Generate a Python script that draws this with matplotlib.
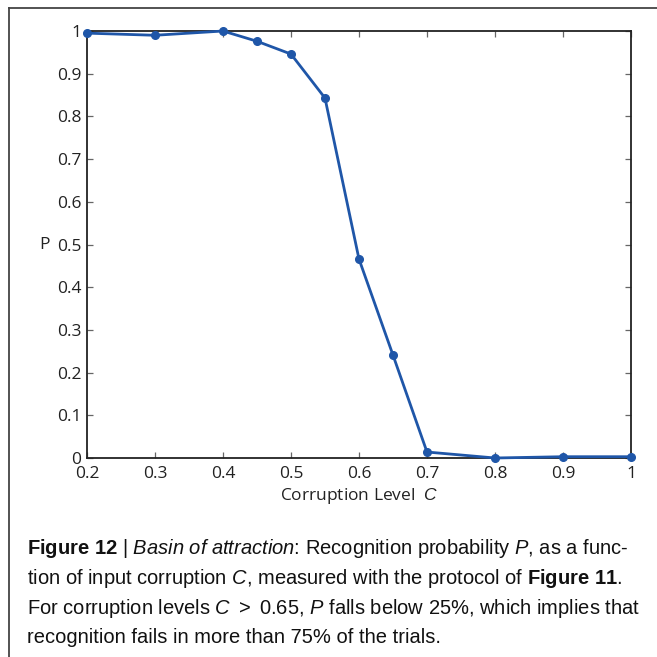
import matplotlib
matplotlib.use("Agg")
import matplotlib.pyplot as plt
from matplotlib.lines import Line2D

# corruption level C vs recognition probability P
corruption = [0.2, 0.3, 0.4, 0.45, 0.5, 0.55, 0.6, 0.65, 0.7, 0.8, 0.9, 1.0]
prob = [0.995, 0.99, 1.0, 0.976, 0.946, 0.843, 0.466, 0.241, 0.014, 0.0, 0.003, 0.003]
xticks = [0.2, 0.3, 0.4, 0.5, 0.6, 0.7, 0.8, 0.9, 1.0]
xticklabels = ["0.2", "0.3", "0.4", "0.5", "0.6", "0.7", "0.8", "0.9", "1"]
yticks = [0, 0.1, 0.2, 0.3, 0.4, 0.5, 0.6, 0.7, 0.8, 0.9, 1.0]
yticklabels = ["0", "0.1", "0.2", "0.3", "0.4", "0.5", "0.6", "0.7", "0.8", "0.9", "1"]

caption = [
    r"$\mathbf{Figure\ 12}$ | $\mathit{Basin\ of\ attraction}$: Recognition probability $\mathit{P}$, as a func-",
    r"tion of input corruption $\mathit{C}$, measured with the protocol of $\mathbf{Figure\ 11}$.",
    r"For corruption levels $\mathit{C}$ $>$ 0.65, $\mathit{P}$ falls below 25%, which implies that",
    r"recognition fails in more than 75% of the trials.",
]

plt.rcParams["mathtext.fontset"] = "custom"
plt.rcParams["mathtext.rm"] = "Liberation Sans"
plt.rcParams["mathtext.it"] = "Liberation Sans:italic"
plt.rcParams["mathtext.bf"] = "Liberation Sans:bold"

LINE_COLOR = "#1f56a8"
TICK_FONT = "Open Sans"
TXT = "#222222"

fig = plt.figure(figsize=(6.57, 6.57), dpi=100, facecolor="white")
ax = fig.add_axes([0.1324, 0.3029, 0.828, 0.6499])

ax.plot(corruption, prob, color=LINE_COLOR, lw=2.0, marker="o", ms=5.5, zorder=3, clip_on=False)
ax.set_xlim(0.2, 1.0)
ax.set_ylim(0, 1.0)
ax.set_xticks(xticks)
ax.set_xticklabels(xticklabels, family=TICK_FONT, fontsize=12.5, color=TXT)
ax.set_yticks(yticks)
ax.set_yticklabels(yticklabels, family=TICK_FONT, fontsize=12.5, color=TXT)
ax.tick_params(direction="in", top=True, right=True, length=4, width=0.9, colors="#666666")
ax.tick_params(axis="x", pad=6, labelcolor=TXT)
ax.tick_params(axis="y", pad=4, labelcolor=TXT)
for sp in ax.spines.values():
    sp.set_color("#222222")
    sp.set_linewidth(1.3)

ax.set_xlabel(r"Corruption Level  $\mathit{C}$", family=TICK_FONT, fontsize=12.5, color=TXT, labelpad=3)
ax.set_ylabel("P", family=TICK_FONT, fontsize=12.5, color=TXT, rotation=0, labelpad=9, va="center")

# frame lines (top and left)
fig.add_artist(Line2D([9 / 657, 1.0], [1 - 8 / 657, 1 - 8 / 657], color="#444444", lw=1.3, transform=fig.transFigure))
fig.add_artist(Line2D([9 / 657, 9 / 657], [0, 1 - 8 / 657], color="#444444", lw=1.3, transform=fig.transFigure))

y0 = 549
for i, line in enumerate(caption):
    fig.text(27 / 657, 1 - (y0 + i * 29.5) / 657, line, family="Liberation Sans", fontsize=14.5,
             color="#111111", va="center", ha="left")

fig.savefig("out.png", dpi=100, facecolor="white")
